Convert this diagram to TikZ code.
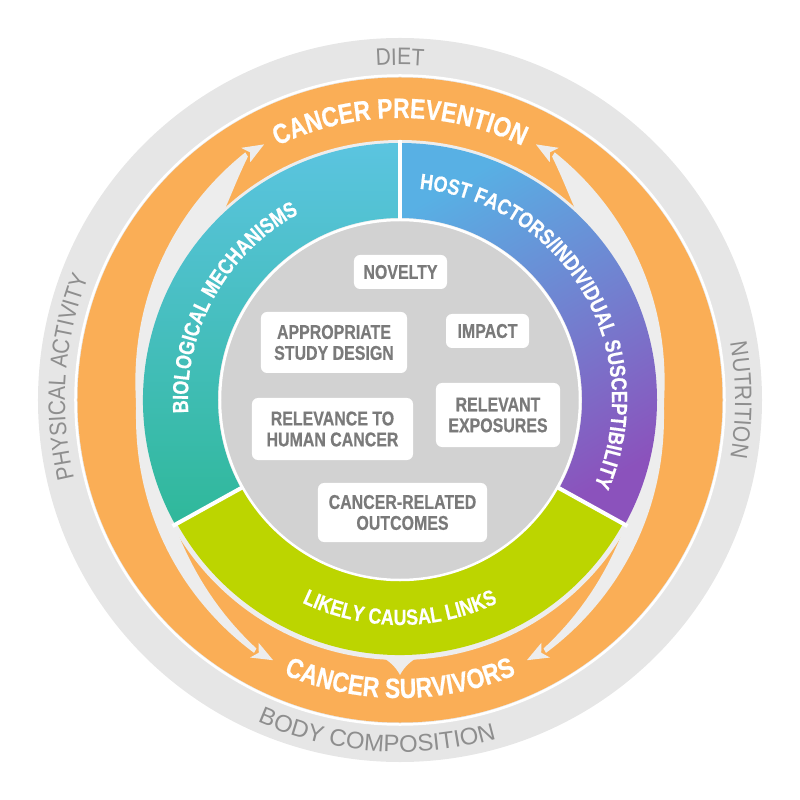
\documentclass[tikz,border=0pt]{standalone}
\usepackage{fontspec}
\usetikzlibrary{decorations.text}
\newfontfamily\cndb[FakeStretch=0.82, FakeBold=0.6]{Liberation Sans}
\newfontfamily\boxf[FakeStretch=0.8, FakeBold=0.5]{Liberation Sans}
\newfontfamily\outf[FakeStretch=0.88]{Liberation Sans}
\newfontfamily\outwide[FakeStretch=1.0]{Liberation Sans}
\definecolor{ringgray}{HTML}{E6E6E6}
\definecolor{lanegray}{HTML}{EDEDED}
\definecolor{orng}{HTML}{FAAE56}
\definecolor{discgray}{HTML}{D2D2D2}
\definecolor{tealtop}{HTML}{5BC4E0}
\definecolor{tealbot}{HTML}{2FB89A}
\definecolor{bluetop}{HTML}{58B0E4}
\definecolor{purplebot}{HTML}{8B52BC}
\definecolor{lime}{HTML}{BCD500}
\definecolor{outtxt}{HTML}{8E8E8E}
\definecolor{boxtxt}{HTML}{7A7A7A}
\begin{document}
\begin{tikzpicture}[x=1bp,y=1bp,
  critbox/.style={fill=white, rounded corners=6bp, inner sep=0pt, align=center,
    text=boxtxt, font=\boxf\bfseries\fontsize{20}{21}\selectfont},
  sep/.style={white, line width=4bp},
  lanefill/.style={fill=lanegray}]
\useasboundingbox (-400,-400) rectangle (400,400);
% outer ring
\fill[ringgray] (0,0) circle[radius=362bp];
\draw[white, line width=2.5bp] (0,0) circle[radius=324.5bp];
% orange ring
\fill[orng] (0,0) circle[radius=322.5bp];
% lanes with arrowheads (left, then mirrored right)
\foreach \s in {1,-1}{
\begin{scope}[xscale=\s]
\fill[lanefill] plot[domain=-59:59, samples=80, variable=\p] ({181+\p}:{264+28*abs(\p)/59*sqrt(sqrt(abs(\p)/59))})
  -- plot[domain=59:26, samples=40, variable=\p] ({181+\p}:{257+30*((\p-26)/33)*sqrt(sqrt((\p-26)/33))})
  -- (207:250) arc[start angle=207, end angle=134, radius=250bp]
  -- plot[domain=-47:-59, samples=20, variable=\p] ({181+\p}:{257+30*((-47-\p)/12)*sqrt(sqrt((-47-\p)/12))})
  -- cycle;
\fill[lanefill] (118:289.5) -- (122.2:298) -- (121.2:289.5) -- (122.2:281) -- cycle;
\fill[lanefill] (244:289.5) -- (239.8:298) -- (240.8:289.5) -- (239.8:281) -- cycle;
\end{scope}}
% gap disc and bottom notch
\fill[lanegray] (0,0) circle[radius=260bp];
\fill[lanegray] (264:255) .. controls (267:258) and (269:266) .. (270:275)
   .. controls (271:266) and (273:258) .. (276:255) -- cycle;
% coloured ring
\shade[top color=tealtop, bottom color=tealbot]
  (90:182) arc[start angle=90, end angle=209, radius=182bp]
  -- (209:257) arc[start angle=209, end angle=90, radius=257bp] -- cycle;
\shade[top color=bluetop, bottom color=purplebot, shading angle=30]
  (-29:182) arc[start angle=-29, end angle=90, radius=182bp]
  -- (90:257) arc[start angle=90, end angle=-29, radius=257bp] -- cycle;
\fill[lime]
  (209:180) arc[start angle=209, end angle=331, radius=180bp]
  -- (331:255) arc[start angle=331, end angle=209, radius=255bp] -- cycle;
\draw[sep] (90:178) -- (90:260);
\draw[sep] (209:178) -- (209:260);
\draw[sep] (331:178) -- (331:260);
% inner disc
\fill[discgray] (0,0) circle[radius=180bp];
\draw[white, line width=2.5bp] (0,0) circle[radius=180bp];
% outer texts
\path[decorate, decoration={text along path, text align=center,
  text={|\outf\fontsize{24}{24}\selectfont\color{outtxt}|DIET}}]
  (150:335) arc[start angle=150, end angle=30, radius=335bp];
\path[decorate, decoration={text along path, text align=center,
  text={|\outf\fontsize{24}{24}\selectfont\color{outtxt}|NUTRITION}}]
  (60:335) arc[start angle=60, end angle=-60, radius=335bp];
\path[decorate, decoration={text along path, text align=center,
  text={|\outf\fontsize{24}{24}\selectfont\color{outtxt}|PHYSICAL ACTIVITY}}]
  (236:335) arc[start angle=236, end angle=116, radius=335bp];
\path[decorate, decoration={text along path, text align=center,
  text={|\outwide\fontsize{24}{24}\selectfont\color{outtxt}|BODY COMPOSITION}}]
  (206:352) arc[start angle=206, end angle=326, radius=352bp];
% orange band texts
\path[decorate, decoration={text along path, text align=center,
  text={|\cndb\bfseries\fontsize{28}{28}\selectfont\color{white}|CANCER PREVENTION}}]
  (150:282) arc[start angle=150, end angle=30, radius=282bp];
\path[decorate, decoration={text along path, text align=center,
  text={|\cndb\bfseries\fontsize{28}{28}\selectfont\color{white}|CANCER SURVIVORS}}]
  (210:298) arc[start angle=210, end angle=330, radius=298bp];
% ring texts
\path[decorate, decoration={text along path, text align=center,
  text={|\cndb\bfseries\fontsize{22}{22}\selectfont\color{white}|BIOLOGICAL MECHANISMS}}]
  (211:212) arc[start angle=211, end angle=91, radius=212bp];
\path[decorate, decoration={text along path, text align=center,
  text={|\cndb\bfseries\fontsize{22}{22}\selectfont\color{white}|HOST FACTORS/INDIVIDUAL SUSCEPTIBILITY}}]
  (100:212) arc[start angle=100, end angle=-39, radius=212bp];
\path[decorate, decoration={text along path, text align=center,
  text={|\cndb\bfseries\fontsize{22}{22}\selectfont\color{white}|LIKELY CAUSAL LINKS}}]
  (220:225) arc[start angle=220, end angle=320, radius=225bp];
% criteria boxes
\node[critbox, minimum width=93bp, minimum height=34bp] (novelty) at (0.5,128) {NOVELTY};
\node[critbox, minimum width=146bp, minimum height=61bp] (design) at (-66,57.5) {APPROPRIATE\\STUDY DESIGN};
\node[critbox, minimum width=83bp, minimum height=34bp] (impact) at (87.5,69) {IMPACT};
\node[critbox, minimum width=161bp, minimum height=62bp] (relevance) at (-67.5,-29) {RELEVANCE TO\\HUMAN CANCER};
\node[critbox, minimum width=124bp, minimum height=64bp] (exposures) at (98,-15) {RELEVANT\\EXPOSURES};
\node[critbox, minimum width=169bp, minimum height=59bp] (outcomes) at (2.5,-112.5) {CANCER-RELATED\\OUTCOMES};
\end{tikzpicture}
\end{document}
